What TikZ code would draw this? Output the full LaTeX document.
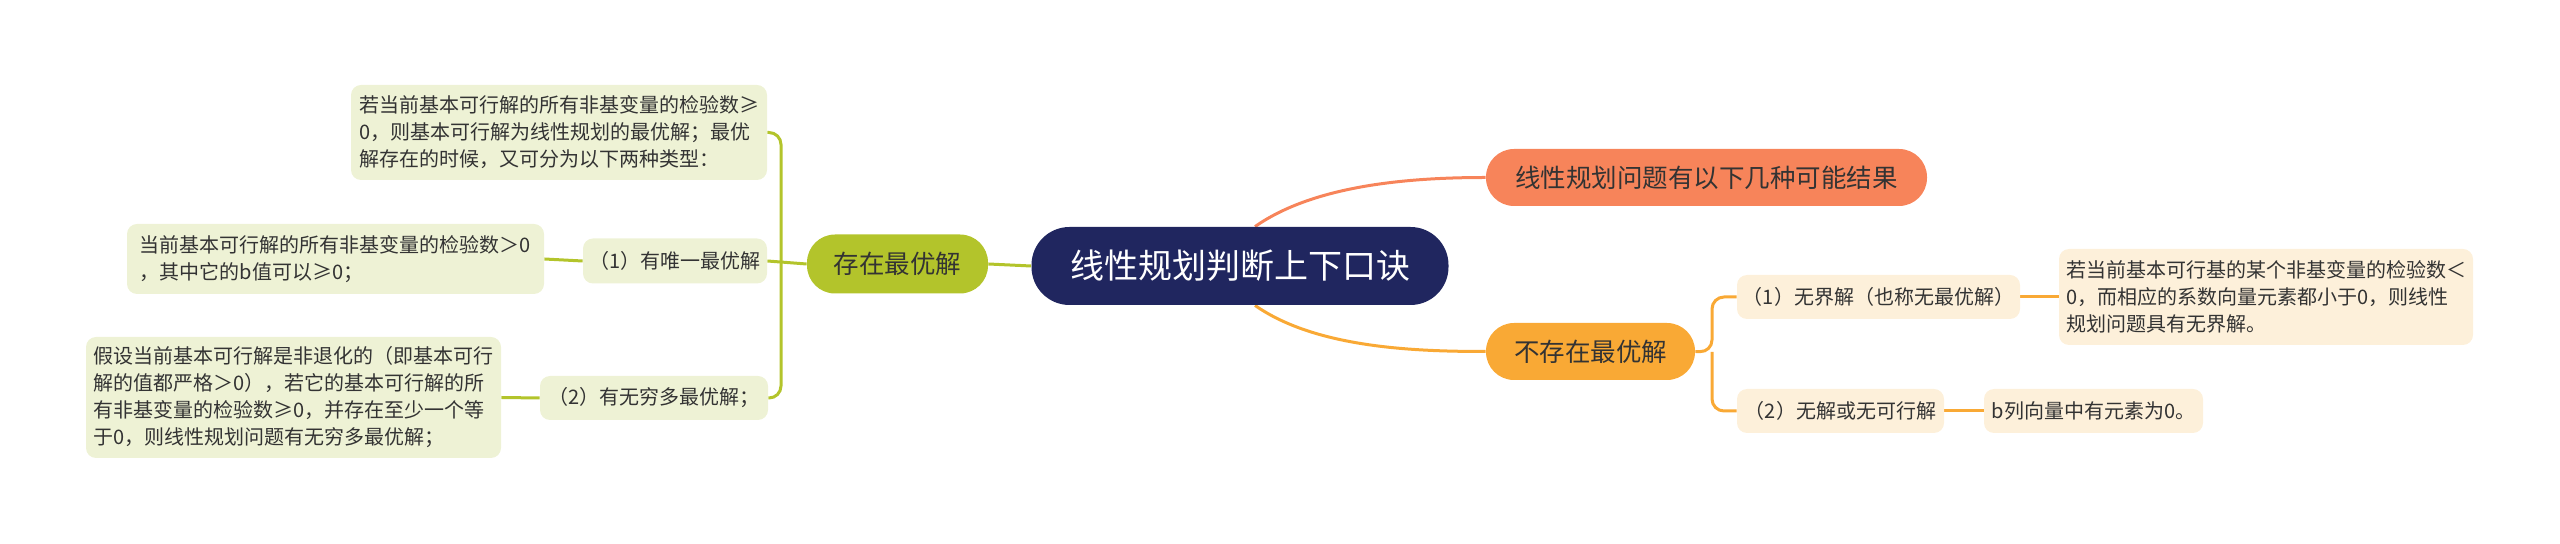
\documentclass[tikz,border=0pt]{standalone}
\usepackage{fontspec}
\setmainfont{Noto Sans CJK SC}
\usepackage{tikz}
\pgfdeclarelayer{nodelayer}
\pgfdeclarelayer{edgelayer}
\pgfsetlayers{edgelayer,nodelayer,main}
\definecolor{navy}{HTML}{20265F}
\definecolor{coral}{HTML}{F7845A}
\definecolor{amber}{HTML}{F9A935}
\definecolor{olive}{HTML}{B3C42B}
\definecolor{palegreen}{HTML}{EEF2D5}
\definecolor{paleamber}{HTML}{FDF0DA}
\definecolor{ink}{HTML}{333333}
\tikzset{
  rootnode/.style={fill=navy, text=white, rounded corners=19pt, inner sep=0pt, font=\fontsize{17}{20}\selectfont},
  branch/.style={rounded corners=14pt, inner sep=0pt, text=ink, font=\fontsize{12.75}{15}\selectfont},
  leaf/.style={rounded corners=5pt, inner sep=0pt, text=ink, align=left, font=\fontsize{10}{13.5}\selectfont},
  wire/.style={line width=1.5pt, rounded corners=6pt},
}
\begin{document}
\begin{tikzpicture}[x=0.5pt, y=-0.5pt]
  \useasboundingbox (0, 0) rectangle (2560, 544);
  \begin{pgfonlayer}{nodelayer}
    \node [rootnode, minimum width=208.5pt, minimum height=39pt] (0) at (1240, 266) {线性规划判断上下口诀};
    \node [branch, fill=coral, minimum width=220.5pt, minimum height=28.5pt] (1) at (1706.5, 177.5) {线性规划问题有以下几种可能结果};
    \node [branch, fill=amber, minimum width=104.5pt, minimum height=28.5pt] (2) at (1590.5, 351.5) {不存在最优解};
    \node [branch, fill=olive, minimum width=90.5pt, minimum height=29.5pt] (3) at (897.5, 264) {存在最优解};
    \node [leaf, fill=palegreen, minimum width=208pt, minimum height=47.5pt] (4) at (559, 132.5) {若当前基本可行解的所有非基变量的检验数≥\\0，则基本可行解为线性规划的最优解；最优\\解存在的时候，又可分为以下两种类型：};
    \node [leaf, fill=palegreen, minimum width=92pt, minimum height=22.5pt] (5) at (675, 261) {（1）有唯一最优解};
    \node [leaf, fill=palegreen, minimum width=208.5pt, minimum height=35pt] (6) at (335.5, 259) {当前基本可行解的所有非基变量的检验数＞0\\，其中它的b值可以≥0；};
    \node [leaf, fill=palegreen, minimum width=114pt, minimum height=22pt] (7) at (654, 398) {（2）有无穷多最优解；};
    \node [leaf, fill=palegreen, minimum width=207.5pt, minimum height=60.5pt] (8) at (293.5, 397.5) {假设当前基本可行解是非退化的（即基本可行\\解的值都严格＞0），若它的基本可行解的所\\有非基变量的检验数≥0，并存在至少一个等\\于0，则线性规划问题有无穷多最优解；};
    \node [leaf, fill=paleamber, minimum width=141.5pt, minimum height=22pt] (9) at (1878.5, 297) {（1）无界解（也称无最优解）};
    \node [leaf, fill=paleamber, minimum width=207pt, minimum height=48pt] (10) at (2266, 297) {若当前基本可行基的某个非基变量的检验数＜\\0，而相应的系数向量元素都小于0，则线性\\规划问题具有无界解。};
    \node [leaf, fill=paleamber, minimum width=103.5pt, minimum height=22pt] (11) at (1840.5, 411) {（2）无解或无可行解};
    \node [leaf, fill=paleamber, minimum width=109.5pt, minimum height=22pt] (12) at (2093.5, 411) {b列向量中有元素为0。};
    \coordinate (13) at (781, 263);
    \coordinate (14) at (1712, 352);
  \end{pgfonlayer}
  \begin{pgfonlayer}{edgelayer}
    \draw [wire, coral] ([xshift=7.5pt]0.north) to [out=35, in=180, looseness=0.8] (1.west);
    \draw [wire, amber] ([xshift=7.5pt]0.south) to [out=-35, in=180, looseness=0.8] (2.west);
    \draw [wire, olive] (0.west) to (3.east);
    \draw [wire, olive] (3.west) to (5.east);
    \draw [wire, olive] (13) |- (4.east);
    \draw [wire, olive] (13) |- (7.east);
    \draw [wire, olive] (5.west) to (6.east);
    \draw [wire, olive] (7.west) to (8.east);
    \draw [wire, amber] (2.east) -- (14) |- (9.west);
    \draw [wire, amber] (14) |- (11.west);
    \draw [wire, amber] (9.east) to (10.west);
    \draw [wire, amber] (11.east) to (12.west);
  \end{pgfonlayer}
\end{tikzpicture}
\end{document}
